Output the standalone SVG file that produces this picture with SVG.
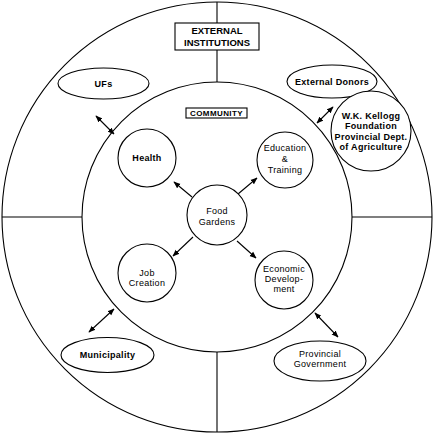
<svg xmlns="http://www.w3.org/2000/svg" width="434" height="434" viewBox="0 0 434 434">
<defs>
<marker id="ah" viewBox="0 0 10 10" refX="9" refY="5" markerWidth="7" markerHeight="7" orient="auto-start-reverse" markerUnits="userSpaceOnUse">
<path d="M0,1 L10,5 L0,9 z" fill="#000"/>
</marker>
<style>
.s{fill:#fff;stroke:#000;stroke-width:1.1}
.l{stroke:#000;stroke-width:1.1;fill:none}
.t{font-family:"Liberation Sans",Arial,sans-serif;font-size:9px;letter-spacing:0.3px;text-anchor:middle;fill:#000}
.b{font-weight:bold}
.c{stroke:#000;stroke-width:1.1;fill:none;marker-end:url(#ah)}
.d{stroke:#000;stroke-width:1.1;fill:none;marker-start:url(#ah);marker-end:url(#ah)}
</style>
</defs>
<rect width="434" height="434" fill="#fff"/>
<g id="rings">
<circle cx="217" cy="217" r="215" class="s"/>
<circle cx="217" cy="217" r="135" class="s"/>
<line x1="217" y1="2" x2="217" y2="82" class="l"/>
<line x1="217" y1="352" x2="217" y2="432" class="l"/>
<line x1="2" y1="217" x2="82" y2="217" class="l"/>
<line x1="352" y1="217" x2="432" y2="217" class="l"/>
</g>
<g id="external-institutions">
<rect x="175" y="23" width="84" height="27" class="s"/>
<text x="217" y="34" class="t b" style="font-size:9.5px;letter-spacing:0">EXTERNAL</text>
<text x="217" y="46" class="t b" style="font-size:9.5px;letter-spacing:0">INSTITUTIONS</text>
</g>
<g id="community">
<rect x="186" y="108" width="61" height="10" class="s" stroke-width="1"/>
<text x="216.5" y="116.3" class="t b" style="font-size:8px;letter-spacing:0.4px">COMMUNITY</text>
</g>
<g id="connectors">
<line x1="96" y1="116" x2="114" y2="134" class="d"/>
<line x1="333" y1="107" x2="317" y2="123" class="d"/>
<line x1="114" y1="309" x2="89" y2="332" class="d"/>
<line x1="315" y1="313" x2="338" y2="337" class="d"/>
<line x1="192" y1="197" x2="174" y2="182" class="c"/>
<line x1="238" y1="194" x2="257" y2="178" class="c"/>
<line x1="193" y1="237" x2="173" y2="256" class="c"/>
<line x1="237" y1="241" x2="256" y2="258" class="c"/>
</g>
<g id="ufs">
<ellipse cx="103.5" cy="83.5" rx="45.5" ry="15.5" class="s"/>
<text x="103.5" y="86.5" class="t b">UFs</text>
</g>
<g id="external-donors">
<ellipse cx="332" cy="81.5" rx="45" ry="16.5" class="s"/>
<text x="332" y="84.5" class="t b">External Donors</text>
</g>
<g id="kellogg">
<circle cx="371" cy="131" r="40" class="s"/>
<text x="371" y="118.5" class="t b">W.K. Kellogg</text>
<text x="371" y="129" class="t b">Foundation</text>
<text x="371" y="139.5" class="t b">Provincial Dept.</text>
<text x="371" y="150" class="t b">of Agriculture</text>
</g>
<g id="health">
<circle cx="147" cy="158" r="29" class="s"/>
<text x="147" y="161" class="t b">Health</text>
</g>
<g id="education">
<circle cx="285" cy="160" r="28" class="s"/>
<text x="285" y="151" class="t">Education</text>
<text x="285" y="161.5" class="t">&amp;</text>
<text x="285" y="173" class="t">Training</text>
</g>
<g id="food-gardens">
<circle cx="217" cy="215" r="30" class="s"/>
<text x="217" y="214" class="t">Food</text>
<text x="217" y="224.5" class="t">Gardens</text>
</g>
<g id="job-creation">
<circle cx="147" cy="273" r="29" class="s"/>
<text x="147" y="276" class="t">Job</text>
<text x="147" y="286" class="t">Creation</text>
</g>
<g id="economic">
<circle cx="284" cy="280" r="29" class="s"/>
<text x="284" y="272" class="t">Economic</text>
<text x="284" y="282" class="t">Develop-</text>
<text x="284" y="292" class="t">ment</text>
</g>
<g id="municipality">
<ellipse cx="107.5" cy="355" rx="46.5" ry="17.5" class="s"/>
<text x="107.5" y="358" class="t b">Municipality</text>
</g>
<g id="provincial-government">
<ellipse cx="320" cy="361" rx="46" ry="20" class="s"/>
<text x="320" y="357" class="t">Provincial</text>
<text x="320" y="367" class="t">Government</text>
</g>
</svg>
